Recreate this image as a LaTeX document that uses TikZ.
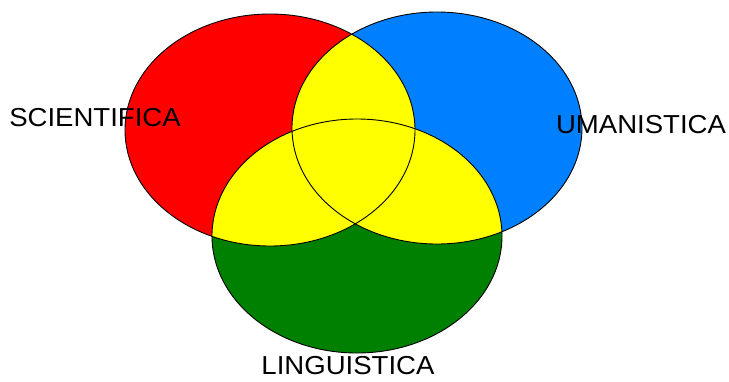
\documentclass[tikz,border=0pt]{standalone}
\usepackage{fontspec}
\setmainfont{Liberation Sans}
\definecolor{vred}{RGB}{255,0,0}
\definecolor{vblue}{RGB}{0,128,255}
\definecolor{vgreen}{RGB}{0,128,0}
\definecolor{vyellow}{RGB}{255,255,0}
\tikzset{
  outline/.style={draw=black,line width=0.9pt},
  lbl/.style={inner sep=0pt,font=\fontsize{26}{26}\selectfont,xscale=1.06,text=black}
}
\begin{document}
\begin{tikzpicture}[x=1pt,y=-1pt]
\useasboundingbox (0,0) rectangle (729,381);
\fill[white] (0,0) rectangle (729,381);
% circles
\def\sciE{(270,130) ellipse [x radius=145, y radius=116]}
\def\umaE{(437,128) ellipse [x radius=145, y radius=116]}
\def\linE{(357,236) ellipse [x radius=145, y radius=117]}
\fill[vred] \sciE;
\fill[vblue] \umaE;
\fill[vgreen] \linE;
% intersections
\begin{scope}
  \clip \sciE;
  \fill[vyellow] \umaE;
  \fill[vyellow] \linE;
\end{scope}
\begin{scope}
  \clip \umaE;
  \fill[vyellow] \linE;
\end{scope}
\draw[outline] \sciE;
\draw[outline] \umaE;
\draw[outline] \linE;
% labels
\node[lbl] (sci) at (95,118) {SCIENTIFICA};
\node[lbl] (uma) at (641,125) {UMANISTICA};
\node[lbl] (lin) at (348,366) {LINGUISTICA};
\end{tikzpicture}
\end{document}
